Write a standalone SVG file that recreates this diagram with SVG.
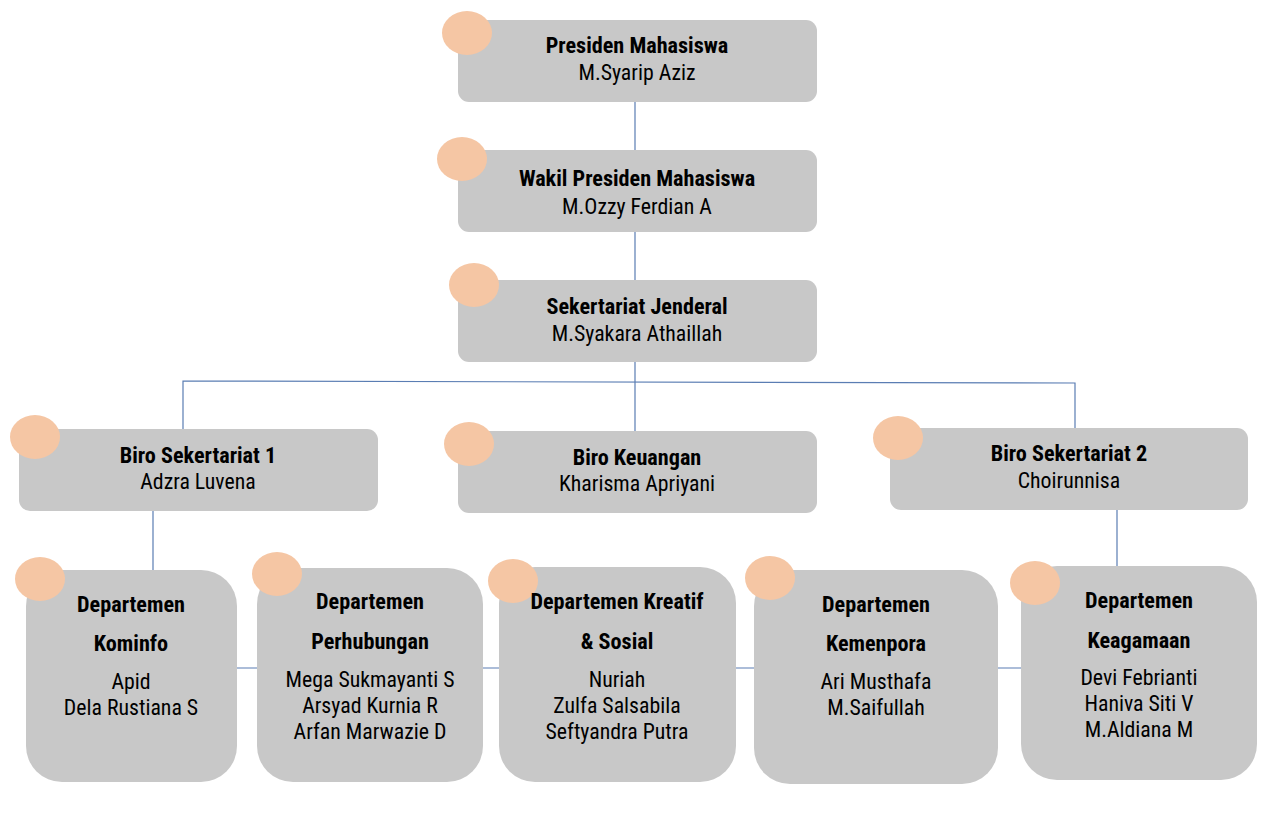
<svg xmlns="http://www.w3.org/2000/svg" width="1268" height="825" viewBox="0 0 1268 825">
<style>
.box{fill:#C8C8C8}
.dot{fill:#F5C6A4}
.ln{stroke:#5A7DB3;stroke-width:1.2;fill:none}
text{font-family:"Liberation Sans Narrow","Roboto Condensed","Liberation Sans",Arial,sans-serif;font-size:21.8px;fill:#000;text-anchor:middle}
.b{font-weight:bold;font-size:22.2px}
</style>
<rect width="1268" height="825" fill="#fff"/>
<g id="connectors">
<path class="ln" d="M635 102V150M635 232V280M635 362V431"/>
<path class="ln" d="M183 429V381L1075 383V428"/>
<path class="ln" d="M153 511V570M1117 510V566"/>
<path class="ln" d="M237 668H1021"/>
</g>
<g id="presiden">
<rect class="box" x="458" y="20" width="359" height="82" rx="11"/>
<ellipse class="dot" cx="467" cy="33" rx="25" ry="22"/>
<text class="b" x="637" y="53">Presiden Mahasiswa</text>
<text x="637" y="80">M.Syarip Aziz</text>
</g>
<g id="wakil">
<rect class="box" x="458" y="150" width="359" height="82" rx="11"/>
<ellipse class="dot" cx="462" cy="159" rx="25" ry="22"/>
<text class="b" x="637" y="186">Wakil Presiden Mahasiswa</text>
<text x="637" y="214">M.Ozzy Ferdian A</text>
</g>
<g id="sekjen">
<rect class="box" x="458" y="280" width="359" height="82" rx="11"/>
<ellipse class="dot" cx="474" cy="285" rx="25" ry="22"/>
<text class="b" x="637" y="314">Sekertariat Jenderal</text>
<text x="637" y="341">M.Syakara Athaillah</text>
</g>
<g id="biro1">
<rect class="box" x="19" y="429" width="359" height="82" rx="11"/>
<ellipse class="dot" cx="35" cy="437" rx="25" ry="22"/>
<text class="b" x="198" y="463">Biro Sekertariat 1</text>
<text x="198" y="489">Adzra Luvena</text>
</g>
<g id="keuangan">
<rect class="box" x="458" y="431" width="359" height="82" rx="11"/>
<ellipse class="dot" cx="469" cy="444" rx="25" ry="22"/>
<text class="b" x="637" y="465">Biro Keuangan</text>
<text x="637" y="491">Kharisma Apriyani</text>
</g>
<g id="biro2">
<rect class="box" x="890" y="428" width="358" height="82" rx="11"/>
<ellipse class="dot" cx="898" cy="438" rx="25" ry="22"/>
<text class="b" x="1069" y="461">Biro Sekertariat 2</text>
<text x="1069" y="488">Choirunnisa</text>
</g>
<g id="kominfo">
<rect class="box" x="26" y="570" width="211" height="212" rx="36"/>
<ellipse class="dot" cx="40" cy="579" rx="25" ry="22"/>
<text class="b" x="131" y="612">Departemen</text>
<text class="b" x="131" y="651">Kominfo</text>
<text x="131" y="689">Apid</text>
<text x="131" y="715">Dela Rustiana S</text>
</g>
<g id="perhubungan">
<rect class="box" x="257" y="568" width="226" height="214" rx="36"/>
<ellipse class="dot" cx="277" cy="574" rx="25" ry="22"/>
<text class="b" x="370" y="609">Departemen</text>
<text class="b" x="370" y="649">Perhubungan</text>
<text x="370" y="687">Mega Sukmayanti S</text>
<text x="370" y="713">Arsyad Kurnia R</text>
<text x="370" y="739">Arfan Marwazie D</text>
</g>
<g id="kreatif">
<rect class="box" x="499" y="567" width="237" height="215" rx="36"/>
<ellipse class="dot" cx="513" cy="581" rx="25" ry="22"/>
<text class="b" x="617" y="609">Departemen Kreatif</text>
<text class="b" x="617" y="649">&amp; Sosial</text>
<text x="617" y="687">Nuriah</text>
<text x="617" y="713">Zulfa Salsabila</text>
<text x="617" y="739">Seftyandra Putra</text>
</g>
<g id="kemenpora">
<rect class="box" x="754" y="570" width="244" height="214" rx="36"/>
<ellipse class="dot" cx="770" cy="578" rx="25" ry="22"/>
<text class="b" x="876" y="612">Departemen</text>
<text class="b" x="876" y="651">Kemenpora</text>
<text x="876" y="689">Ari Musthafa</text>
<text x="876" y="715">M.Saifullah</text>
</g>
<g id="keagamaan">
<rect class="box" x="1021" y="566" width="236" height="214" rx="36"/>
<ellipse class="dot" cx="1035" cy="583" rx="25" ry="22"/>
<text class="b" x="1139" y="608">Departemen</text>
<text class="b" x="1139" y="648">Keagamaan</text>
<text x="1139" y="685">Devi Febrianti</text>
<text x="1139" y="711">Haniva Siti V</text>
<text x="1139" y="737">M.Aldiana M</text>
</g>
</svg>
